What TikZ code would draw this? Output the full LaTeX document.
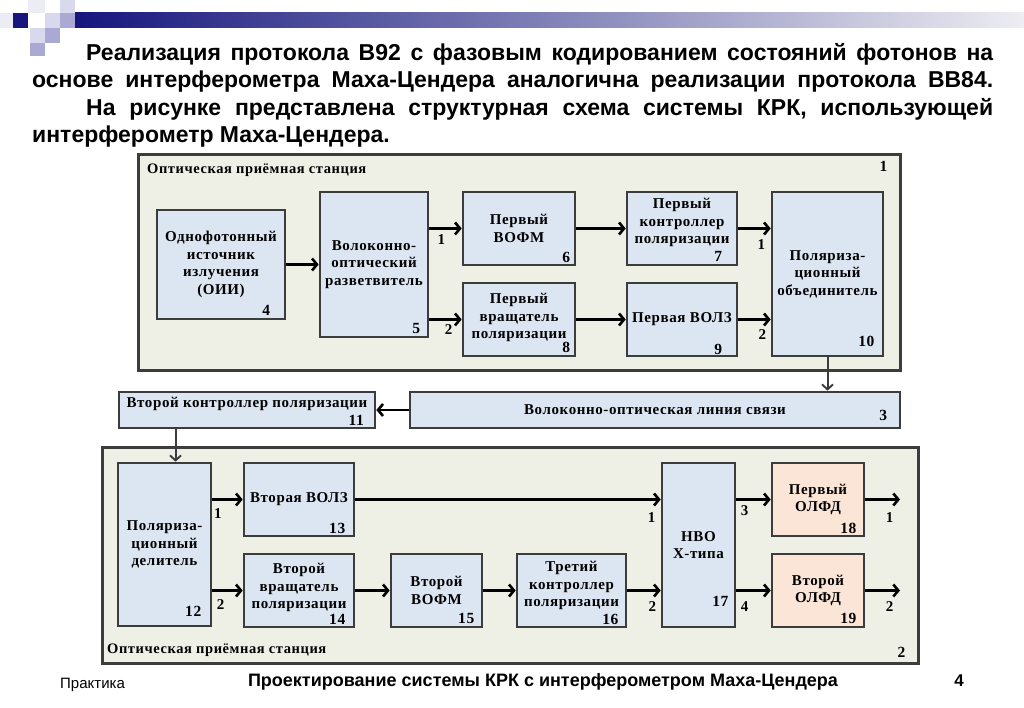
\documentclass[tikz,border=0pt]{standalone}
\usepackage{fontspec}
\setmainfont{Liberation Sans}
\newfontfamily\serifb{Liberation Serif}[LetterSpace=4]
\usetikzlibrary{arrows.meta,calc}
\definecolor{bfill}{HTML}{DCE6F2}
\definecolor{ofill}{HTML}{EEF0E6}
\definecolor{pfill}{HTML}{FBE5D6}
\definecolor{bline}{HTML}{3C3C3C}
\definecolor{navy}{HTML}{16167E}
\definecolor{sqlight}{HTML}{D9D9EE}
\definecolor{sqmed}{HTML}{A9A9D4}
\definecolor{sqfaint}{HTML}{ECECF4}
\definecolor{barend}{HTML}{EDEDF2}
\begin{document}
\begin{tikzpicture}[x=1pt,y=-1pt,
  outer/.style={draw=bline, line width=3pt, fill=ofill, inner sep=0pt},
  blk/.style={draw=bline, line width=2.6pt, fill=bfill, inner sep=1pt, align=center,
    font=\serifb\bfseries\fontsize{15}{17.5}\selectfont},
  pblk/.style={blk, fill=pfill},
  btxt/.style={inner sep=0pt, align=center, font=\serifb\bfseries\fontsize{15}{17.5}\selectfont},
  num/.style={inner sep=0pt, font=\serifb\bfseries\fontsize{15.5}{17}\selectfont},
  lbl/.style={inner sep=0pt, font=\serifb\bfseries\fontsize{15}{17}\selectfont},
  stl/.style={inner sep=0pt, anchor=west, font=\serifb\bfseries\fontsize{14.5}{16}\selectfont},
  ttl/.style={inner sep=0pt, anchor=base west, font=\bfseries\fontsize{23}{28}\selectfont},
  arr/.style={line width=2.8pt, -{Straight Barb[length=5pt,width=12pt,line width=2.6pt]}},
  varr/.style={draw=bline, line width=2pt, -{Straight Barb[length=5pt,width=11pt,line width=1.9pt]}}
]
\useasboundingbox (0,0) rectangle (1024,708);
\fill[white] (0,0) rectangle (1024,708);

% header decoration
\shade[left color=navy, right color=barend] (75,13) rectangle (1024,28);
\fill[sqfaint] (0,13) rectangle (13,28);
\fill[sqfaint] (28,0) rectangle (45,13);
\fill[navy] (13,13) rectangle (28,28);
\fill[sqlight] (60,0) rectangle (75,13);
\fill[sqlight] (45,13) rectangle (60,28);
\fill[sqmed] (60,13) rectangle (75,28);
\fill[sqlight] (30,28) rectangle (45,43);
\fill[sqmed] (45,28) rectangle (60,43);
\fill[sqmed] (30,43) rectangle (45,56);

% title text
\node[ttl] (t1) at (86,61) {\makebox[907pt][s]{Реализация протокола B92 с фазовым кодированием состояний фотонов на}};
\node[ttl] (t2) at (32,88) {\makebox[961pt][s]{основе интерферометра Маха-Цендера аналогична реализации протокола BB84.}};
\node[ttl] (t3) at (86,116) {\makebox[907pt][s]{На рисунке представлена структурная схема системы КРК, использующей}};
\node[ttl] (t4) at (32,143) {интерферометр Маха-Цендера.};

% outer stations
\node[outer, minimum width=762pt, minimum height=215pt] (o1) at (519,262.5) {};
\node[stl] (s1) at (147,170) {Оптическая приёмная станция};
\node[num] at ([shift={(-18,13)}]o1.north east) {1};

\node[outer, minimum width=816pt, minimum height=216pt] (o2) at (510,555) {};
\node[stl] (s2) at (107,650) {Оптическая приёмная станция};
\node[num] at ([shift={(-18,-12)}]o2.south east) {2};

% top station blocks
\node[blk, minimum width=128pt, minimum height=109pt] (n4) at (221,264.5) {Однофотонный\\источник\\излучения\\(ОИИ)};
\node[blk, minimum width=108pt, minimum height=145pt] (n5) at (374,264.5) {Волоконно-\\оптический\\разветвитель};
\node[blk, minimum width=112pt, minimum height=73pt] (n6) at (519,228.5) {Первый\\ВОФМ};
\node[blk, minimum width=112pt, minimum height=73pt] (n8) at (519,319.5) {};
\node[btxt] at ([yshift=2pt]n8.center) {Первый\\вращатель\\поляризации};
\node[blk, minimum width=110pt, minimum height=73pt] (n7) at (682,228.5) {};
\node[btxt] at ([yshift=6pt]n7.center) {Первый\\контроллер\\поляризации};
\node[blk, minimum width=110pt, minimum height=73pt] (n9) at (682,319.5) {Первая ВОЛЗ};
\node[blk, minimum width=111pt, minimum height=164pt] (n10) at (827.5,274) {Поляриза-\\ционный\\объединитель};

\node[num] at ([shift={(-20,-10)}]n4.south east) {4};
\node[num] at ([shift={(-13,-10)}]n5.south east) {5};
\node[num] at ([shift={(-10,-9)}]n6.south east) {6};
\node[num] at ([shift={(-10,-10)}]n8.south east) {8};
\node[num] at ([shift={(-20,-10)}]n7.south east) {7};
\node[num] at ([shift={(-20,-8)}]n9.south east) {9};
\node[num] at ([shift={(-18,-16)}]n10.south east) {10};

% middle blocks
\node[blk, minimum width=256pt, minimum height=36pt] (n11) at (247,410) {};
\node[btxt] at ([yshift=6pt]n11.center) {Второй контроллер поляризации};
\node[num] at ([shift={(-20,-9)}]n11.south east) {11};
\node[blk, minimum width=490pt, minimum height=36pt] (n3) at (655,410) {Волоконно-оптическая линия связи};
\node[num] at ([shift={(-18,-14)}]n3.south east) {3};

% bottom station blocks
\node[blk, minimum width=93pt, minimum height=163pt] (n12) at (164.5,544.5) {Поляриза-\\ционный\\делитель};
\node[blk, minimum width=110pt, minimum height=73pt] (n13) at (299,499.5) {Вторая ВОЛЗ};
\node[blk, minimum width=110pt, minimum height=73pt] (n14) at (299,590.5) {};
\node[btxt] at ([yshift=3pt]n14.center) {Второй\\вращатель\\поляризации};
\node[blk, minimum width=91pt, minimum height=73pt] (n15) at (436.5,590.5) {Второй\\ВОФМ};
\node[blk, minimum width=109pt, minimum height=73pt] (n16) at (571.5,590.5) {};
\node[btxt] at ([yshift=5pt]n16.center) {Третий\\контроллер\\поляризации};
\node[blk, minimum width=73pt, minimum height=164pt] (n17) at (698.5,545) {НВО\\Х-типа};
\node[pblk, minimum width=92pt, minimum height=73pt] (n18) at (818,499.5) {Первый\\ОЛФД};
\node[pblk, minimum width=92pt, minimum height=73pt] (n19) at (818,590.5) {Второй\\ОЛФД};

\node[num] at ([shift={(-19,-16)}]n12.south east) {12};
\node[num] at ([shift={(-18,-9)}]n13.south east) {13};
\node[num] at ([shift={(-18,-9)}]n14.south east) {14};
\node[num] at ([shift={(-17,-10)}]n15.south east) {15};
\node[num] at ([shift={(-17,-9)}]n16.south east) {16};
\node[num] at ([shift={(-16,-27)}]n17.south east) {17};
\node[num] at ([shift={(-17,-9)}]n18.south east) {18};
\node[num] at ([shift={(-17,-10)}]n19.south east) {19};

\coordinate (e1) at (900,499.5);
\coordinate (e2) at (900,590.5);

% connectors top
\draw[arr] (n4.east) -- (n4.east -| n5.west);
\draw[arr] (n5.east |- n6.west) -- node[lbl, pos=0.37, below=5pt] {1} (n6.west);
\draw[arr] (n5.east |- n8.west) -- node[lbl, pos=0.6, below=4pt] {2} (n8.west);
\draw[arr] (n6.east) -- (n7.west);
\draw[arr] (n8.east) -- (n9.west);
\draw[arr] (n7.east) -- node[lbl, pos=0.71, below=10pt] {1} (n7.east -| n10.west);
\draw[arr] (n9.east) -- node[lbl, pos=0.74, below=9pt] {2} (n9.east -| n10.west);

% connectors middle
\draw[varr] (n10.south) -- (n10.south |- n3.north);
\draw[arr] (n3.west) -- (n11.east);
\draw[varr] ([xshift=11pt]n12.north |- n11.south) -- ([xshift=11pt]n12.north);

% connectors bottom
\draw[arr] (n12.east |- n13.west) -- node[lbl, pos=0.18, below=8pt] {1} (n13.west);
\draw[arr] (n12.east |- n14.west) -- node[lbl, pos=0.27, below=8pt] {2} (n14.west);
\draw[arr] (n13.east) -- node[lbl, pos=0.97, below=12pt] {1} (n13.east -| n17.west);
\draw[arr] (n14.east) -- (n15.west);
\draw[arr] (n15.east) -- (n16.west);
\draw[arr] (n16.east) -- node[lbl, pos=0.75, below=10pt] {2} (n16.east -| n17.west);
\draw[arr] (n17.east |- n18.west) -- node[lbl, pos=0.24, below=5pt] {3} (n18.west);
\draw[arr] (n17.east |- n19.west) -- node[lbl, pos=0.24, below=10pt] {4} (n19.west);
\draw[arr] (n18.east) -- node[lbl, pos=0.7, below=12pt] {1} (e1);
\draw[arr] (n19.east) -- node[lbl, pos=0.7, below=10pt] {2} (e2);

% footer
\node[inner sep=0pt, anchor=base west, font=\fontsize{15}{18}\selectfont] (f1) at (60,688) {Практика};
\node[inner sep=0pt, anchor=base, font=\bfseries\fontsize{18}{20}\selectfont] (f2) at (543,686) {Проектирование системы КРК с интерферометром Маха-Цендера};
\node[inner sep=0pt, anchor=base, font=\bfseries\fontsize{17}{18}\selectfont] (f3) at (959,686) {4};
\end{tikzpicture}
\end{document}
